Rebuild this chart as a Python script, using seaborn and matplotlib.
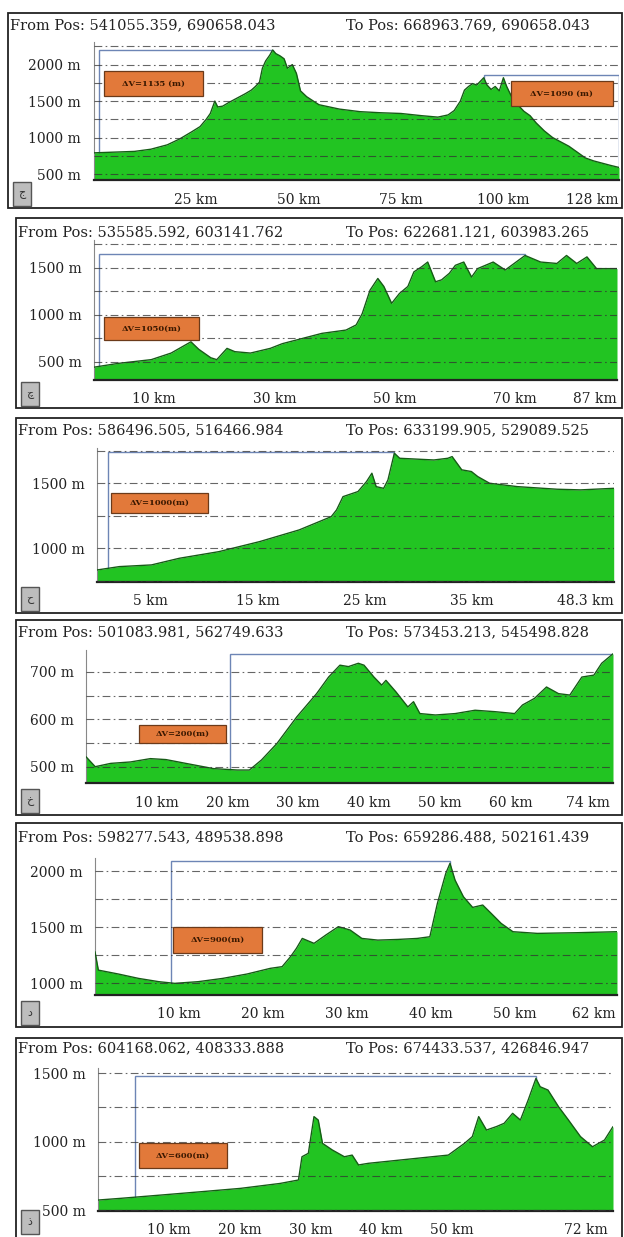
import numpy as np
import pandas as pd
import matplotlib
matplotlib.use("Agg")
import matplotlib.pyplot as plt
import seaborn as sns
from matplotlib.patches import Rectangle
from matplotlib.ticker import MultipleLocator

# elevation profiles: distance (km) and elevation (m)
p1_km = [0, 5, 10, 14, 18, 21, 24, 26, 27.5, 28.5, 29.6, 30.3, 31.5, 33, 35, 37, 38.5, 39.5, 40.5,
         41.2, 42, 43, 43.7, 44.5, 45.5, 46.5, 47.3, 48.5, 49.5, 50.5, 52, 55, 60, 65, 70, 75, 80,
         84, 86.5, 88, 89.5, 90.5, 91.5, 92.5, 93.5, 95.2, 96, 97, 98, 99, 100, 100.8, 102, 103.5,
         105, 106.5, 108, 110, 112, 114, 116, 118, 120, 122, 124, 126, 128.2]
p1_m = [790, 800, 810, 840, 900, 980, 1080, 1150, 1250, 1330, 1500, 1420, 1430, 1480, 1540, 1600,
        1650, 1700, 1760, 1950, 2050, 2130, 2200, 2150, 2120, 2080, 1950, 2000, 1880, 1640, 1560,
        1450, 1390, 1355, 1340, 1330, 1300, 1280, 1310, 1370, 1500, 1650, 1700, 1740, 1720, 1820,
        1720, 1660, 1700, 1640, 1820, 1700, 1560, 1450, 1360, 1300, 1200, 1090, 1000, 940, 880,
        800, 720, 680, 650, 620, 590]

p2_km = [0, 4, 9.5, 12.8, 15, 16.1, 17.4, 19.4, 20.4, 22.1, 23.4, 26, 29.3, 31.3, 34.6, 37.9, 41.9,
         43.6, 44.6, 45.9, 47.2, 48.2, 49.5, 50.8, 52.2, 53.2, 54.5, 55.5, 56.8, 57.8, 59.1, 60.1,
         61.5, 62.8, 63.8, 66.4, 68.4, 71.7, 74.3, 77, 78.6, 80.3, 82, 83.6, 87]
p2_m = [440, 480, 520, 590, 670, 710, 630, 540, 520, 640, 605, 590, 640, 690, 745, 800, 835, 890,
        1010, 1260, 1385, 1300, 1120, 1225, 1300, 1455, 1510, 1560, 1350, 1370, 1440, 1525, 1560,
        1400, 1490, 1560, 1475, 1630, 1560, 1545, 1630, 1545, 1615, 1490, 1490]

p3_km = [0, 2.1, 5.1, 7.7, 11.4, 15.2, 18.9, 21.9, 22.4, 23, 24.4, 25.2, 25.7, 26.1, 26.8, 27.2,
         27.8, 28.3, 30, 31.5, 32.8, 33.2, 34.1, 35, 35.6, 36.7, 39.3, 43, 45.2, 48.3]
p3_m = [833, 859, 872, 923, 974, 1051, 1141, 1243, 1295, 1397, 1436, 1513, 1577, 1474, 1461, 1525,
        1731, 1692, 1685, 1679, 1692, 1705, 1603, 1590, 1551, 1500, 1474, 1454, 1449, 1461]

p4_km = [0, 1.3, 3.5, 6.3, 9.1, 11.3, 14.1, 18, 21.4, 23.1, 24.8, 27, 29.8, 32.6, 34.3, 35.9, 37.1,
         38.5, 39.3, 40.7, 41.8, 42.4, 43.8, 45.5, 46.3, 47.2, 49.4, 52.2, 55, 57.8, 60.6, 61.7,
         63.4, 65.1, 66.8, 68.4, 70.1, 71.8, 72.9, 74.5]
p4_m = [521, 500, 507, 510, 517, 515, 507, 496, 493, 493, 514, 549, 605, 654, 689, 714, 711, 718,
        714, 689, 672, 682, 658, 626, 637, 612, 609, 612, 619, 616, 612, 630, 644, 668, 654, 651,
        689, 693, 718, 738]

p5_km = [0, 0.4, 2.8, 5.2, 7.6, 9.5, 12.3, 15.2, 18.1, 20.9, 22.3, 23.3, 24, 24.7, 26.1, 27.5, 29,
         30.4, 31.8, 33.7, 36.1, 38.4, 39.9, 40.8, 41.8, 42.3, 42.9, 43.9, 45, 46.2, 47.2, 48.4,
         49.8, 52.7, 57.4, 62.2]
p5_m = [1282, 1118, 1083, 1044, 1015, 1000, 1015, 1044, 1083, 1134, 1149, 1238, 1312, 1401, 1357,
        1431, 1506, 1476, 1401, 1386, 1392, 1401, 1416, 1714, 1982, 2071, 1922, 1773, 1678, 1699,
        1625, 1535, 1461, 1446, 1452, 1461]

p6_km = [0, 3.1, 8.8, 14.4, 20.1, 25.7, 28.3, 28.8, 29.7, 30.5, 31.1, 31.7, 33.1, 34.8, 35.9, 36.8,
         38.2, 42.7, 47.2, 49.5, 51.8, 52.9, 53.8, 54.9, 56.3, 57.4, 58.6, 59.7, 60.8, 61.9, 62.5,
         63.6, 65.1, 66.5, 68.2, 69.9, 71.6, 72.8]
p6_m = [573, 585, 609, 633, 658, 694, 719, 889, 914, 1182, 1157, 987, 938, 889, 901, 829, 841, 865,
        889, 901, 987, 1036, 1182, 1084, 1109, 1133, 1206, 1157, 1303, 1461, 1400, 1376, 1254,
        1157, 1036, 962, 1011, 1109]

from_pos = ["From Pos: 541055.359, 690658.043", "From Pos: 535585.592, 603141.762",
            "From Pos: 586496.505, 516466.984", "From Pos: 501083.981, 562749.633",
            "From Pos: 598277.543, 489538.898", "From Pos: 604168.062, 408333.888"]
to_pos = ["To Pos: 668963.769, 690658.043", "To Pos: 622681.121, 603983.265",
          "To Pos: 633199.905, 529089.525", "To Pos: 573453.213, 545498.828",
          "To Pos: 659286.488, 502161.439", "To Pos: 674433.537, 426846.947"]
panel_letters = ["ج", "چ", "ح", "خ", "د", "ذ"]

y_ticks = [[500, 1000, 1500, 2000], [500, 1000, 1500], [1000, 1500],
           [500, 600, 700], [1000, 1500, 2000], [500, 1000, 1500]]
grid_step = [250, 250, 250, 50, 250, 250]
x_ticks = [[25, 50, 75, 100, 128], [10, 30, 50, 70, 87], [5, 15, 25, 35, 48.3],
           [10, 20, 30, 40, 50, 60, 74], [10, 20, 30, 40, 50, 62], [10, 20, 30, 40, 50, 72]]
x_minor = [[], [20, 40, 60, 80], [10, 20, 30, 40, 45], [70], [60], [60, 70]]

dv_labels = [["ΔV=1135 (m)", "ΔV=1090 (m)"], ["ΔV=1050(m)"], ["ΔV=1000(m)"],
             ["ΔV=200(m)"], ["ΔV=900(m)"], ["ΔV=600(m)"]]
# measuring bracket: (x start, x end, top elevation)
dv_spans = [[(1.3, 43.7, 2200), (95.2, 128.2, 1860)], [(0.75, 71.7, 1650)], [(1.0, 27.8, 1740)],
            [(20.3, 74.5, 738)], [(9.1, 42.3, 2090)], [(5.2, 61.9, 1480)]]

profiles = [(p1_km, p1_m), (p2_km, p2_m), (p3_km, p3_m), (p4_km, p4_m), (p5_km, p5_m), (p6_km, p6_m)]

# ---- layout (pixels) ----
W, H = 624, 1237
ax_px = [(93.5, 42, 619, 180), (94.2, 240, 617, 380), (96.9, 448, 613.7, 581.7),
         (86, 650, 613, 783.3), (95, 858, 617, 995), (98.4, 1068, 613, 1210.7)]
ylims = [(418, 2310), (303, 1795), (743, 1771), (465, 746), (896, 2119), (495, 1537)]
frame_px = [(8, 13, 622, 208), (16, 218, 622, 408), (16, 418, 622, 613),
            (16, 620, 622, 815), (16, 823, 622, 1027), (16, 1038, 622, 1250)]
title_y = [25, 232, 430, 632, 837, 1048]
# orange label boxes in data units: (x0, x1, y0, y1)
dv_boxes = [[(2.6, 26.7, 1569, 1911), (101.8, 126.7, 1432, 1774)], [(1.6, 17.4, 730, 977)],
            [(1.3, 10.4, 1269, 1423)], [(7.5, 19.8, 549, 588)], [(9.3, 19.9, 1268, 1505)],
            [(5.8, 18.2, 804, 987)]]

GREEN = "#22c422"
EDGE = "#165c16"
ORANGE = "#e2793a"

sns.set_style("white")
plt.rcParams["font.family"] = ["DejaVu Serif", "DejaVu Sans"]


def fig_rect(l, t, r, b):
    return [l / W, 1 - b / H, (r - l) / W, (b - t) / H]


fig = plt.figure(figsize=(W / 100, H / 100), dpi=100)

for i, (km, elev) in enumerate(profiles):
    l, t, r, b = frame_px[i]
    fig.add_artist(Rectangle((l / W, 1 - b / H), (r - l) / W, (b - t) / H,
                             transform=fig.transFigure, fill=False, ec="#222222", lw=1.3))
    fig.text((l + 2) / W, 1 - title_y[i] / H, from_pos[i], fontsize=10.5, va="center", color="#222")
    fig.text(346 / W, 1 - title_y[i] / H, to_pos[i], fontsize=10.5, va="center", color="#222")

    # panel letter tab (kept inside the picture for the last panel)
    tab_b = min(b - 2, H - 3)
    fig.add_artist(Rectangle(((l + 5) / W, 1 - tab_b / H), 18 / W, 24 / H,
                             transform=fig.transFigure, fc="#bdbdbd", ec="#555", lw=1))
    fig.text((l + 14) / W, 1 - (tab_b - 12) / H, panel_letters[i], fontsize=8, ha="center",
             va="center", color="#333")

    ax = fig.add_axes(fig_rect(*ax_px[i]))
    ax.patch.set_alpha(0)
    df = pd.DataFrame({"km": km, "m": elev})
    y0, y1 = ylims[i]
    ax.fill_between(df["km"], df["m"], y0, color=GREEN, lw=0, zorder=2)
    sns.lineplot(data=df, x="km", y="m", ax=ax, color=EDGE, lw=1.0, zorder=3)
    ax.set_xlim(0, km[-1])
    ax.set_ylim(y0, y1)

    step = grid_step[i]
    for v in np.arange(np.ceil(y0 / step) * step, y1, step):
        ax.axhline(v, color="#333333", lw=0.8, alpha=0.75, ls=(0, (7, 3, 1.5, 3)), zorder=4)

    ax.set_yticks(y_ticks[i])
    ax.set_yticklabels([f"{v} m" for v in y_ticks[i]])
    ax.yaxis.set_minor_locator(MultipleLocator(step))
    ax.set_xticks(x_ticks[i])
    xlabels = ax.set_xticklabels([f"{v:g} km" for v in x_ticks[i]])
    xlabels[-1].set_horizontalalignment("right")
    ax.set_xticks(x_minor[i], minor=True)
    ax.tick_params(axis="both", which="both", direction="out", length=6, width=1,
                   color="#333", labelsize=10, labelcolor="#222", pad=3)
    ax.set_xlabel("")
    ax.set_ylabel("")
    for s in ["top", "right"]:
        ax.spines[s].set_visible(False)
    ax.spines["left"].set_color("#888")
    ax.spines["left"].set_linewidth(0.8)
    ax.spines["bottom"].set_color("#222")
    ax.spines["bottom"].set_linewidth(1.6)

    for (sx0, sx1, top), (bx0, bx1, by0, by1), txt in zip(dv_spans[i], dv_boxes[i], dv_labels[i]):
        ax.add_patch(Rectangle((sx0, y0), sx1 - sx0, top - y0, fill=False, ec="#6d85b5",
                               lw=1.0, zorder=1))
        ax.add_patch(Rectangle((bx0, by0), bx1 - bx0, by1 - by0, fc=ORANGE, ec="#6b3a1a",
                               lw=0.9, zorder=5))
        ax.text((bx0 + bx1) / 2, (by0 + by1) / 2, txt, ha="center", va="center",
                fontsize=6, fontweight="bold", color="#3a1800", zorder=6)

fig.savefig("out.png", dpi=100)
